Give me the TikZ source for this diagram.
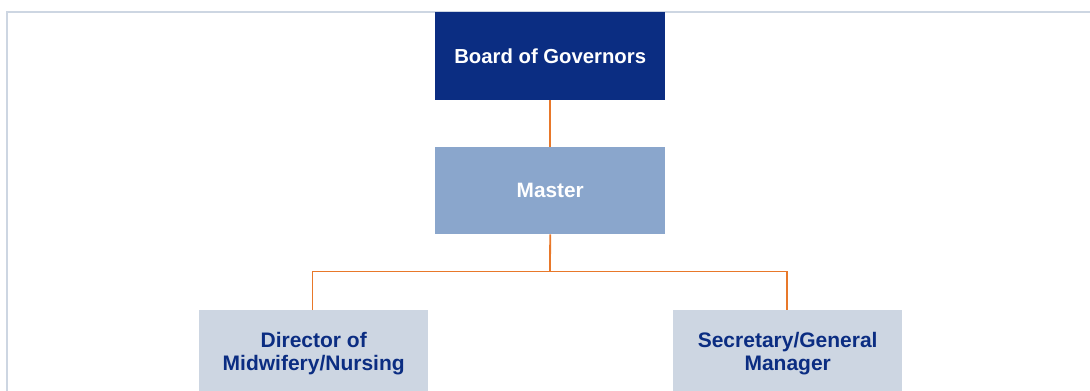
\documentclass[tikz,border=0pt]{standalone}
\usepackage{fontspec}
\setmainfont{Liberation Sans}
\definecolor{navy}{HTML}{0B2D82}
\definecolor{midblue}{HTML}{8AA6CC}
\definecolor{paleblue}{HTML}{CDD6E2}
\definecolor{linkorange}{HTML}{E8782A}
\tikzset{
  box/.style={anchor=north west, inner sep=0pt, align=center},
  topbox/.style={box, fill=navy, text=white, font=\bfseries\fontsize{20.3}{23}\selectfont},
  midbox/.style={box, fill=midblue, text=white, font=\bfseries\fontsize{20.8}{23}\selectfont},
  lowbox/.style={box, fill=paleblue, text=navy, font=\bfseries\fontsize{21}{23.5}\selectfont},
  link/.style={draw=linkorange, line width=1.8pt},
  frame/.style={draw=paleblue, line width=2.2pt}
}
\begin{document}
\begin{tikzpicture}[x=1pt,y=-1pt]
\useasboundingbox (0,0) rectangle (1090,391);
\coordinate (fa) at (7,391);
\coordinate (fb) at (7,12);
\coordinate (fc) at (1090,12);
\draw[frame] (fa) -- (fb) -- (fc);
\node[topbox, minimum width=230pt, minimum height=88pt] (board) at (435,12) {Board of Governors};
\node[midbox, minimum width=230pt, minimum height=87pt] (master) at (435,147) {Master};
\node[lowbox, minimum width=229pt, minimum height=87pt] (dir) at (199,310) {Director of\\Midwifery/Nursing};
\node[lowbox, minimum width=229pt, minimum height=87pt] (sec) at (673,310) {Secretary/General\\Manager};
\coordinate (bar) at (550,271.5);
\draw[link] (board.south) -- (master.north);
\draw[link] (master.south) -- (bar);
\draw[link] (dir.north -| 312.5,0) |- (bar) -| (sec.north -| 787,0);
\end{tikzpicture}
\end{document}
